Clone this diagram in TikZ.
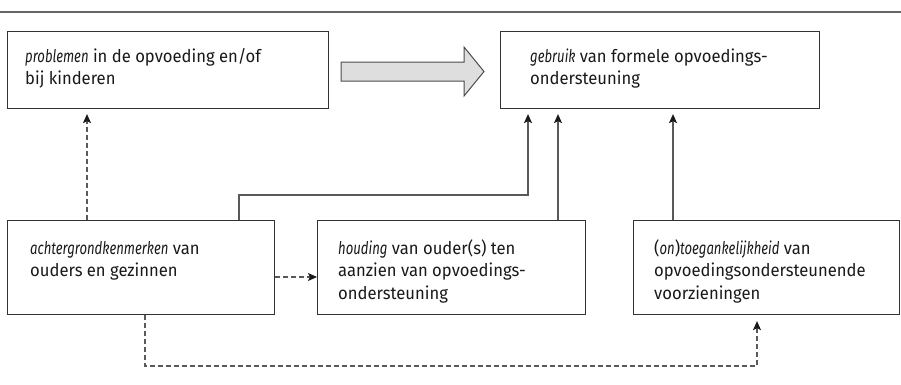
\documentclass[tikz,border=0pt]{standalone}
\usepackage{fontspec}
\setmainfont{Fira Sans}[UprightFeatures={FakeStretch=0.95}, ItalicFeatures={FakeStretch=0.75}]
\usetikzlibrary{arrows.meta}
\begin{document}
\begin{tikzpicture}[x=1pt,y=-1pt,
  box/.style={draw=black!80, line width=1.1pt, anchor=north west, inner sep=0pt},
  txt/.style={anchor=base west, inner sep=0pt, text=black!90, font=\fontsize{17.5}{22.5}\selectfont},
  link/.style={draw=black!65, line width=1.1pt, -{Stealth[length=9pt,width=8pt,inset=2pt,color=black!90]}, shorten >=5pt},
  dlink/.style={link, dash pattern=on 5pt off 3pt},
  rule/.style={draw=black!60, line width=1.5pt}
]
\useasboundingbox (0,0) rectangle (901,384);
\draw[rule] (0,12) -- (901,12);

% boxes
\node[box, minimum width=321pt, minimum height=77pt] (A) at (7,31) {};
\node[box, minimum width=319pt, minimum height=77pt] (B) at (500,31) {};
\node[box, minimum width=267pt, minimum height=94pt] (C) at (7,220) {};
\node[box, minimum width=268pt, minimum height=94pt] (D) at (317,220) {};
\node[box, minimum width=266pt, minimum height=94pt] (E) at (633,220) {};

% box texts
\node[txt] (At) at (25,62) {\vtop{\baselineskip=22.5pt\hbox{\textit{problemen} in de opvoeding en/of}\hbox{bij kinderen}}};
\node[txt] (Bt) at (530,62) {\vtop{\baselineskip=22.5pt\hbox{\textit{gebruik} van formele opvoedings-}\hbox{ondersteuning}}};
\node[txt] (Ct) at (30,254) {\vtop{\baselineskip=22.5pt\hbox{\textit{achtergrondkenmerken} van}\hbox{ouders en gezinnen}}};
\node[txt] (Dt) at (338,254) {\vtop{\baselineskip=22.5pt\hbox{\textit{houding} van ouder(s) ten}\hbox{aanzien van opvoedings-}\hbox{ondersteuning}}};
\node[txt] (Et) at (654,254) {\vtop{\baselineskip=22.5pt\hbox{(\textit{on})\textit{toegankelijkheid} van}\hbox{opvoedingsondersteunende}\hbox{voorzieningen}}};

% broad arrow between the top boxes
\draw[draw=black!70, fill=black!13, line width=1pt]
  (341,62) -- (464,62) -- (464,47) -- (484,71.5) -- (464,96) -- (464,81) -- (341,81) -- cycle;

% connectors
\coordinate (p1) at (87,0);
\coordinate (k1) at (239,195);
\coordinate (k2) at (528,195);
\coordinate (p3) at (558,0);
\coordinate (p4) at (673,0);
\coordinate (h1) at (0,277);
\coordinate (q1) at (145,366);
\coordinate (q2) at (757,366);

\draw[dlink] (C.north -| p1) -- (A.south -| p1);
\draw[link] (C.north -| k1) -- (k1) -- (k2) -- (B.south -| k2);
\draw[link] (D.north -| p3) -- (B.south -| p3);
\draw[link] (E.north -| p4) -- (B.south -| p4);
\draw[dlink, shorten >=0pt] (C.east |- h1) -- (D.west |- h1);
\draw[dlink, shorten >=6pt] (C.south -| q1) -- (q1) -- (q2) -- (E.south -| q2);
\end{tikzpicture}
\end{document}
